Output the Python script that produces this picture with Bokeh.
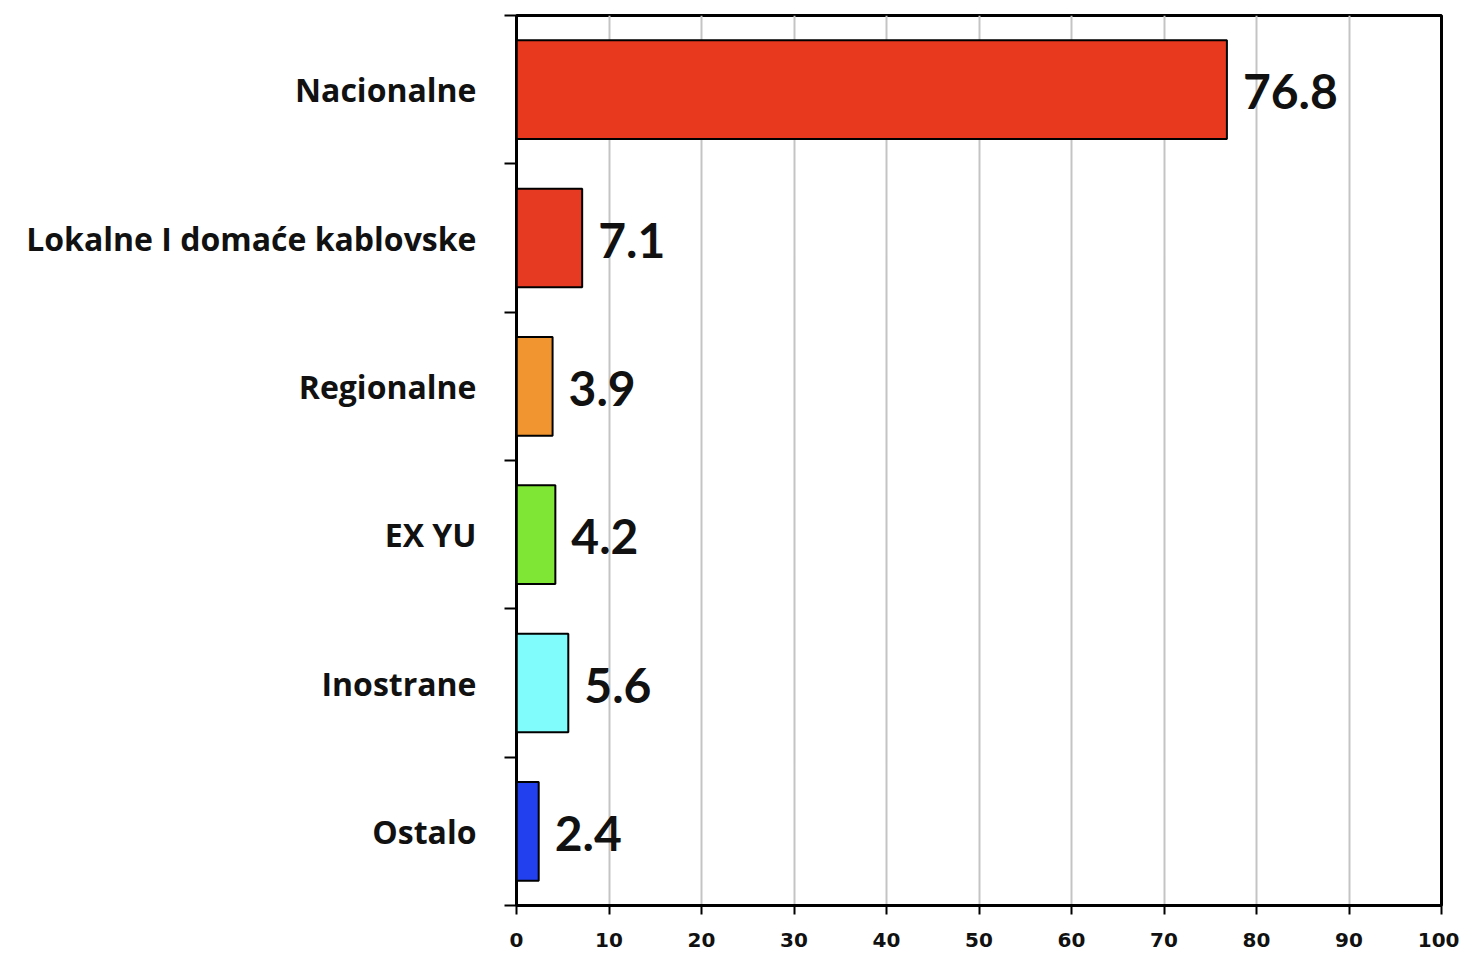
from bokeh.plotting import figure
from bokeh.models import ColumnDataSource, FixedTicker, Range1d, LabelSet
from bokeh.core.properties import value
from bokeh.embed import file_html
from bokeh.resources import INLINE

categories = ["Nacionalne", "Lokalne I domaće kablovske", "Regionalne", "EX YU", "Inostrane", "Ostalo"]
values = [76.8, 7.1, 3.9, 4.2, 5.6, 2.4]
colors = ["#E8391F", "#E63A22", "#F0952F", "#7FE636", "#80FCFC", "#2240EE"]
x_ticks = [0, 10, 20, 30, 40, 50, 60, 70, 80, 90, 100]

n = len(categories)
ypos = [n - i - 0.5 for i in range(n)]
labels = [f"{v:.1f}" for v in values]

src = ColumnDataSource(dict(y=ypos, v=values, c=colors, lab=labels))

p = figure(width=1459, height=957, output_backend="svg", toolbar_location=None,
           x_range=Range1d(0, 100), y_range=Range1d(0, n),
           min_border_left=516, min_border_top=15, min_border_right=18, min_border_bottom=52)

p.hbar(y="y", right="v", left=0, height=0.665, fill_color="c", line_color="black",
       line_width=2, source=src)

p.add_layout(LabelSet(x="v", y="y", text="lab", source=src, x_offset=16, y_offset=-2,
                      text_font=value("Lato"), text_font_style="bold", text_font_size="48px",
                      text_baseline="middle", text_color="#111111"))

# x axis
p.xaxis.ticker = FixedTicker(ticks=x_ticks)
p.xaxis.major_label_text_font = "DejaVu Sans"
p.xaxis.major_label_text_font_style = "bold"
p.xaxis.major_label_text_font_size = "20px"
p.xaxis.major_label_text_color = "#111111"
p.xaxis.major_tick_out = 9
p.xaxis.major_tick_in = 0
p.xaxis.major_tick_line_width = 2
p.xaxis.minor_tick_line_color = None
p.xaxis.axis_line_width = 3
p.xaxis.major_label_standoff = 18

# y axis: labels at centers, ticks at boundaries
p.yaxis.ticker = FixedTicker(ticks=ypos, minor_ticks=list(range(n + 1)))
p.yaxis.major_label_overrides = {y: c for y, c in zip(ypos, categories)}
p.yaxis.major_tick_line_color = None
p.yaxis.minor_tick_out = 12
p.yaxis.minor_tick_in = 0
p.yaxis.minor_tick_line_width = 2
p.yaxis.minor_tick_line_color = "black"
p.yaxis.axis_line_width = 2
p.yaxis.major_label_text_font = "Open Sans"
p.yaxis.major_label_text_font_style = "bold"
p.yaxis.major_label_text_font_size = "32px"
p.yaxis.major_label_text_color = "#111111"
p.yaxis.major_label_standoff = 28

p.xgrid.ticker = FixedTicker(ticks=x_ticks)
p.xgrid.grid_line_color = "#C4C4C4"
p.xgrid.grid_line_width = 2
p.ygrid.grid_line_color = None

p.outline_line_color = "black"
p.outline_line_width = 3
p.background_fill_color = "white"

open("out.html", "w").write(file_html(p, INLINE))
